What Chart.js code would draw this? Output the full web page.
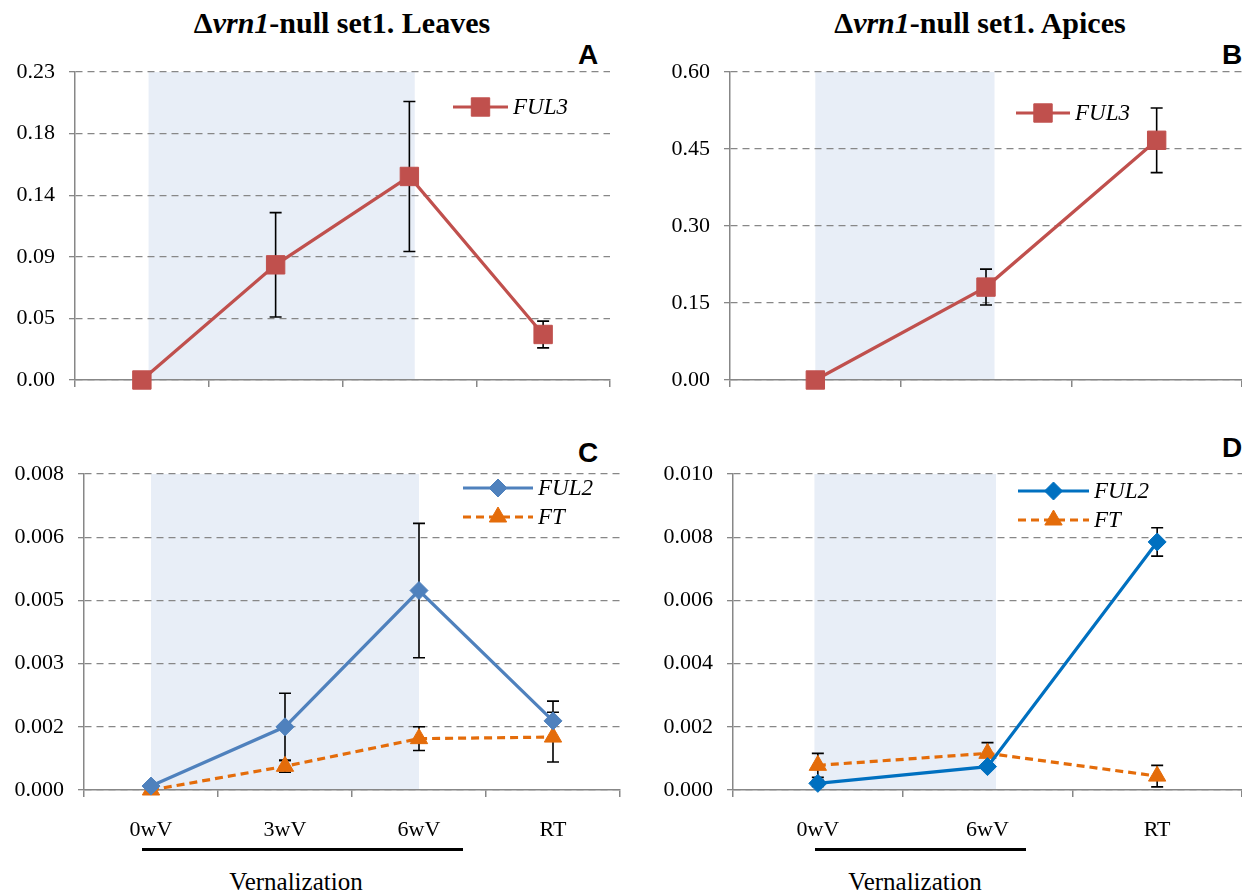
<!DOCTYPE html>
<html>
<head>
<meta charset="utf-8">
<script src="https://cdn.jsdelivr.net/npm/chart.js@4.4.1/dist/chart.umd.min.js"></script>
<style>
  body { margin: 0; background: #fff; }
  #page { position: relative; width: 1242px; height: 896px; overflow: hidden; font-family: 'Liberation Serif', 'Times New Roman', serif; color: #000; }
  canvas { position: absolute; }
  .title { position: absolute; font-weight: bold; font-size: 30px; line-height: 30px; white-space: nowrap; transform: translateX(-50%); }
  .letter { position: absolute; font-family: 'Liberation Sans', Arial, sans-serif; font-weight: bold; font-size: 28px; line-height: 28px; }
  .rule { position: absolute; height: 3px; background: #000; }
  .xtitle { position: absolute; font-size: 25px; line-height: 25px; white-space: nowrap; transform: translateX(-50%); }
</style>
</head>
<body>
<div id="page">
  <div class="title" style="left:342px; top:8px">&Delta;<i>vrn1</i>-null set1. Leaves</div>
  <div class="title" style="left:980px; top:8px">&Delta;<i>vrn1</i>-null set1. Apices</div>
  <div class="letter" style="left:578px; top:41px">A</div>
  <div class="letter" style="left:1222px; top:41px">B</div>
  <div class="letter" style="left:578px; top:439px">C</div>
  <div class="letter" style="left:1222px; top:434px">D</div>

  <canvas id="chartA" width="612" height="330" style="left:0px; top:62px"></canvas>
  <canvas id="chartB" width="602" height="330" style="left:640px; top:62px"></canvas>
  <canvas id="chartC" width="622" height="390" style="left:0px; top:464px"></canvas>
  <canvas id="chartD" width="602" height="390" style="left:640px; top:464px"></canvas>

  <div class="rule" style="left:142px; width:321px; top:848px"></div>
  <div class="rule" style="left:815px; width:211px; top:848px"></div>
  <div class="xtitle" style="left:296px; top:869px">Vernalization</div>
  <div class="xtitle" style="left:915px; top:869px">Vernalization</div>
</div>

<script>
// categories
const leavesLabels = ['0wV', '3wV', '6wV', 'RT'];
const apicesLabels = ['0wV', '6wV', 'RT'];

// A: FUL3 in leaves
const ful3Leaves    = [0.000, 0.086, 0.152, 0.034];
const ful3LeavesErr = [0.000, 0.039, 0.056, 0.010];

// B: FUL3 in apices
const ful3Apices    = [0.000, 0.181, 0.467];
const ful3ApicesErr = [0.000, 0.035, 0.063];

// C: FUL2 and FT in leaves
const ful2Leaves    = [0.00010, 0.00160, 0.00505, 0.00175];
const ful2LeavesErr = [0.00000, 0.00085, 0.00170, 0.00050];
const ftLeaves      = [0.00000, 0.00060, 0.00130, 0.00134];
const ftLeavesErr   = [0.00000, 0.00015, 0.00030, 0.00063];

// D: FUL2 and FT in apices
const ful2Apices    = [0.00021, 0.00074, 0.00785];
const ful2ApicesErr = [0.00010, 0.00008, 0.00045];
const ftApices      = [0.00078, 0.00116, 0.00044];
const ftApicesErr   = [0.00038, 0.00034, 0.00034];

// y ticks (Excel-style: odd step, rounded labels)
const ticksA = [0, 0.046, 0.092, 0.138, 0.184, 0.23];
const tickLabelsA = ['0.00', '0.05', '0.09', '0.14', '0.18', '0.23'];
const ticksB = [0, 0.15, 0.30, 0.45, 0.60];
const tickLabelsB = ['0.00', '0.15', '0.30', '0.45', '0.60'];
const ticksC = [0, 0.0016, 0.0032, 0.0048, 0.0064, 0.008];
const tickLabelsC = ['0.000', '0.002', '0.003', '0.005', '0.006', '0.008'];
const ticksD = [0, 0.002, 0.004, 0.006, 0.008, 0.010];
const tickLabelsD = ['0.000', '0.002', '0.004', '0.006', '0.008', '0.010'];

const RED = '#C0504D';
const BLUE_C = '#4F81BD';
const BLUE_D = '#0070C0';
const ORANGE = '#E46C0A';
const GRID = '#878787';
const SHADE = '#E8EEF7';
const FONT = "'Liberation Serif', 'Times New Roman', serif";

// shading, error bars and legend
const panelPlugin = {
  id: 'panel',
  beforeDraw(chart, args, opts) {
    const ctx = chart.ctx, x = chart.scales.x, area = chart.chartArea;
    const step = x.getPixelForValue(1) - x.getPixelForValue(0);
    const x0 = x.getPixelForValue(0) + opts.shade[0] * step;
    const x1 = x.getPixelForValue(0) + opts.shade[1] * step;
    ctx.save();
    ctx.fillStyle = SHADE;
    ctx.fillRect(x0, area.top, x1 - x0, area.bottom - area.top);
    ctx.restore();
  },
  beforeDatasetsDraw(chart, args, opts) {
    const ctx = chart.ctx, y = chart.scales.y;
    ctx.save();
    ctx.strokeStyle = '#000';
    ctx.lineWidth = 1.6;
    opts.errors.forEach((errs, i) => {
      const meta = chart.getDatasetMeta(i);
      const vals = chart.data.datasets[i].data;
      errs.forEach((e, j) => {
        if (!e) return;
        const px = meta.data[j].x;
        const top = y.getPixelForValue(vals[j] + e);
        const bot = y.getPixelForValue(Math.max(vals[j] - e, 0));
        ctx.beginPath();
        ctx.moveTo(px, top); ctx.lineTo(px, bot);
        ctx.moveTo(px - 6, top); ctx.lineTo(px + 6, top);
        ctx.moveTo(px - 6, bot); ctx.lineTo(px + 6, bot);
        ctx.stroke();
      });
    });
    ctx.restore();
  },
  afterDatasetsDraw(chart, args, opts) {
    const ctx = chart.ctx, lg = opts.legend;
    ctx.save();
    chart.data.datasets.forEach((ds, i) => {
      const yy = lg.y + i * lg.step;
      ctx.strokeStyle = ds.borderColor;
      ctx.lineWidth = ds.borderWidth;
      ctx.setLineDash(ds.borderDash || []);
      ctx.beginPath();
      ctx.moveTo(lg.x, yy); ctx.lineTo(lg.x + lg.len, yy);
      ctx.stroke();
      ctx.setLineDash([]);
      ctx.fillStyle = ds.backgroundColor;
      ctx.strokeStyle = ds.borderColor;
      ctx.lineWidth = 1;
      Chart.helpers.drawPoint(ctx, { pointStyle: ds.pointStyle, radius: ds.pointRadius, rotation: 0, borderWidth: 1 }, lg.x + lg.len / 2, yy);
      ctx.fillStyle = '#000';
      ctx.font = 'italic 23px ' + FONT;
      ctx.textBaseline = 'middle';
      ctx.fillText(ds.label, lg.x + lg.len + 5, yy + 1);
    });
    ctx.restore();
  }
};

function series(label, data, color, style, radius, dash) {
  return {
    label: label, data: data,
    borderColor: color, backgroundColor: color,
    borderWidth: 3.2, borderDash: dash || [],
    pointStyle: style, pointRadius: radius, pointHoverRadius: radius,
    pointBorderWidth: 1, pointBackgroundColor: color, pointBorderColor: color,
    tension: 0, clip: false
  };
}

function makeChart(id, labels, datasets, cfg) {
  new Chart(document.getElementById(id), {
    type: 'line',
    data: { labels: labels, datasets: datasets },
    plugins: [panelPlugin],
    options: {
      responsive: false,
      animation: false,
      layout: { autoPadding: false, padding: { top: cfg.padTop, right: cfg.padRight, left: 0, bottom: 0 } },
      plugins: {
        legend: { display: false },
        tooltip: { enabled: false },
        panel: { shade: cfg.shade, errors: cfg.errors, legend: cfg.legend }
      },
      scales: {
        x: {
          type: 'category',
          offset: true,
          grid: { offset: true, drawOnChartArea: false, drawTicks: true, tickLength: 7, color: GRID, tickColor: GRID, lineWidth: 1.5 },
          border: { color: GRID, width: 1.5 },
          ticks: { display: cfg.showX, color: '#000', font: { family: FONT, size: 22 }, padding: 20, maxRotation: 0 },
          afterFit: s => { s.height = cfg.xHeight; s.paddingLeft = 0; s.paddingRight = 0; }
        },
        y: {
          min: 0, max: cfg.ticks[cfg.ticks.length - 1],
          afterBuildTicks: s => { s.ticks = cfg.ticks.map(v => ({ value: v })); },
          grid: { color: GRID, lineWidth: 1.3, tickLength: 6, tickColor: GRID, tickBorderDash: [] },
          border: { color: GRID, width: 1.5, dash: [7, 5] },
          ticks: {
            color: '#000', font: { family: FONT, size: 22 }, padding: 14,
            callback: (v, i) => cfg.tickLabels[i]
          },
          afterFit: s => { s.width = cfg.yWidth; s.paddingTop = 0; s.paddingBottom = 0; }
        }
      }
    }
  });
}

makeChart('chartA', leavesLabels,
  [series('FUL3', ful3Leaves, RED, 'rect', 13)],
  { padTop: 10, padRight: 2, xHeight: 12, yWidth: 75, showX: false,
    ticks: ticksA, tickLabels: tickLabelsA, shade: [0.05, 2.04],
    errors: [ful3LeavesErr], legend: { x: 453, y: 45, len: 55, step: 29 } });

makeChart('chartB', apicesLabels,
  [series('FUL3', ful3Apices, RED, 'rect', 13)],
  { padTop: 10, padRight: 0, xHeight: 12, yWidth: 90, showX: false,
    ticks: ticksB, tickLabels: tickLabelsB, shade: [0, 1.05],
    errors: [ful3ApicesErr], legend: { x: 376, y: 51, len: 54, step: 29 } });

makeChart('chartC', leavesLabels,
  [series('FUL2', ful2Leaves, BLUE_C, 'rectRot', 9),
   series('FT', ftLeaves, ORANGE, 'triangle', 10, [8, 5])],
  { padTop: 10, padRight: 2, xHeight: 64, yWidth: 84, showX: true,
    ticks: ticksC, tickLabels: tickLabelsC, shade: [0, 2.0],
    errors: [ful2LeavesErr, ftLeavesErr], legend: { x: 463, y: 24, len: 70, step: 29 } });

makeChart('chartD', apicesLabels,
  [series('FUL2', ful2Apices, BLUE_D, 'rectRot', 9),
   series('FT', ftApices, ORANGE, 'triangle', 10, [8, 5])],
  { padTop: 10, padRight: 0, xHeight: 64, yWidth: 93, showX: true,
    ticks: ticksD, tickLabels: tickLabelsD, shade: [-0.02, 1.05],
    errors: [ful2ApicesErr, ftApicesErr], legend: { x: 378, y: 27, len: 71, step: 29 } });
</script>
</body>
</html>
